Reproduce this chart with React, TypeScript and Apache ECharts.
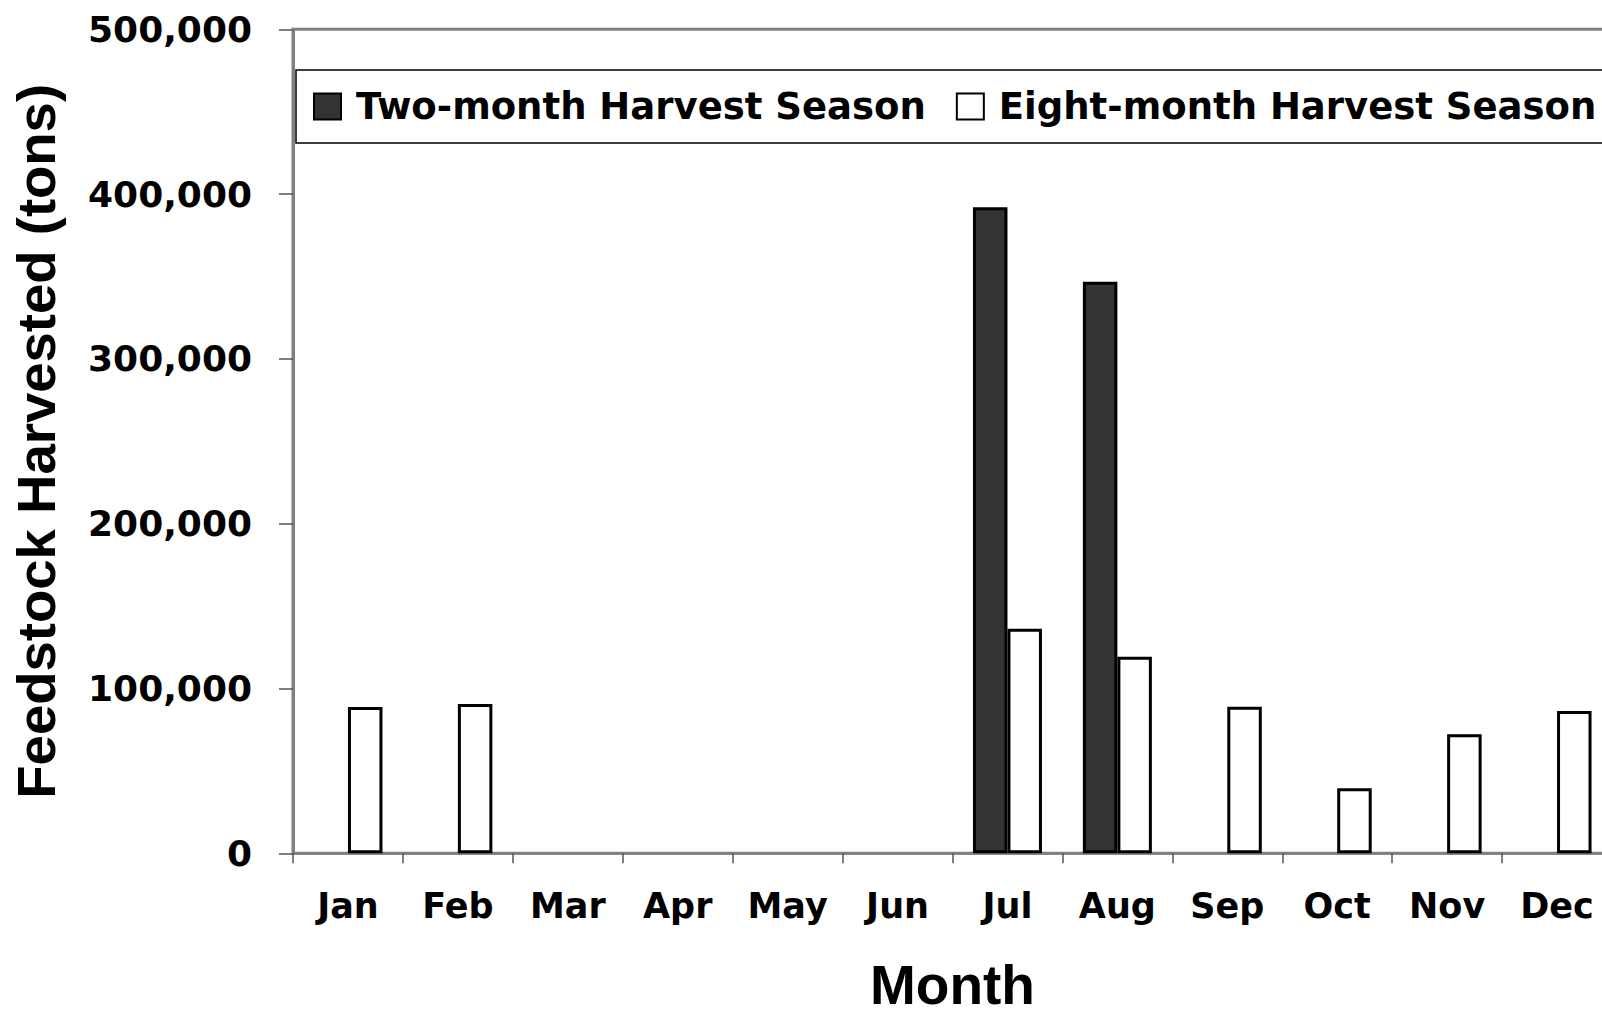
import React, { useEffect, useRef } from "react";
import * as echarts from "echarts";

const months = ["Jan", "Feb", "Mar", "Apr", "May", "Jun", "Jul", "Aug", "Sep", "Oct", "Nov", "Dec"];
const twoMonth = [null, null, null, null, null, null, 392000, 346800, null, null, null, null];
const eightMonth = [88700, 90600, null, null, null, null, 136200, 119300, 89000, 39500, 72200, 86400];
const yTicks = { min: 0, max: 500000, interval: 100000 };
const seriesNames = ["Two-month Harvest Season", "Eight-month Harvest Season"];

const fmt = (v: number) => v.toLocaleString("en-US");

export default function App() {
  const ref = useRef<HTMLDivElement>(null);
  useEffect(() => {
    if (!ref.current) return;
    const chart = echarts.init(ref.current, null, { renderer: "svg" });
    const wide = "DejaVu Sans";
    const arial = "Liberation Sans, Arial, sans-serif";
    chart.setOption({
      animation: false,
      backgroundColor: "#ffffff",
      grid: {
        left: 293,
        top: 29.3,
        width: 1319,
        height: 824,
        outerBoundsMode: "none",
        containLabel: false,
        show: true,
        borderColor: "#808080",
        borderWidth: 3,
        backgroundColor: "transparent",
      },
      legend: {
        left: 296,
        top: 70,
        width: 1400,
        orient: "horizontal",
        icon: "rect",
        borderColor: "#000000",
        borderWidth: 1.5,
        padding: [18, 40, 18, 17],
        itemWidth: 27,
        itemHeight: 26,
        itemGap: 30,
        textStyle: {
          fontFamily: wide,
          fontWeight: "bold",
          fontSize: 37,
          color: "#000",
          padding: [0, 0, 0, 10],
        },
        data: seriesNames,
      },
      xAxis: {
        type: "category",
        data: months,
        boundaryGap: true,
        name: "Month",
        nameLocation: "middle",
        nameGap: 104,
        nameTextStyle: { fontFamily: arial, fontWeight: "bold", fontSize: 55, color: "#000" },
        axisLine: { show: true, lineStyle: { color: "#808080", width: 2.5 } },
        axisTick: { show: true, interval: 0, length: 10, lineStyle: { color: "#555", width: 1.5 } },
        axisLabel: {
          interval: 0,
          margin: 35,
          fontFamily: wide,
          fontWeight: "bold",
          fontSize: 35,
          color: "#000",
        },
        splitLine: { show: false },
      },
      yAxis: {
        type: "value",
        min: yTicks.min,
        max: yTicks.max,
        interval: yTicks.interval,
        name: "Feedstock Harvested (tons)",
        nameLocation: "middle",
        nameRotate: 90,
        nameGap: 229,
        nameTextStyle: { fontFamily: arial, fontWeight: "bold", fontSize: 54.5, color: "#000" },
        axisLine: { show: true, lineStyle: { color: "#808080", width: 3 } },
        axisTick: { show: true, length: 14, lineStyle: { color: "#555", width: 1.5 } },
        axisLabel: {
          margin: 41,
          fontFamily: wide,
          fontWeight: "bold",
          fontSize: 36,
          color: "#000",
          formatter: (v: number) => fmt(v),
        },
        splitLine: { show: false },
      },
      series: [
        {
          name: seriesNames[0],
          type: "bar",
          data: twoMonth,
          barWidth: 34.5,
          barGap: "0%",
          itemStyle: { color: "#333333", borderColor: "#000000", borderWidth: 3 },
        },
        {
          name: seriesNames[1],
          type: "bar",
          data: eightMonth,
          barWidth: 34.5,
          barGap: "0%",
          itemStyle: { color: "#ffffff", borderColor: "#000000", borderWidth: 3 },
        },
      ],
    });
    return () => chart.dispose();
  }, []);
  return (
    <div
      ref={ref}
      style={{ position: "absolute", left: 0, top: 0, width: 1602, height: 1015, overflow: "hidden" }}
    />
  );
}
